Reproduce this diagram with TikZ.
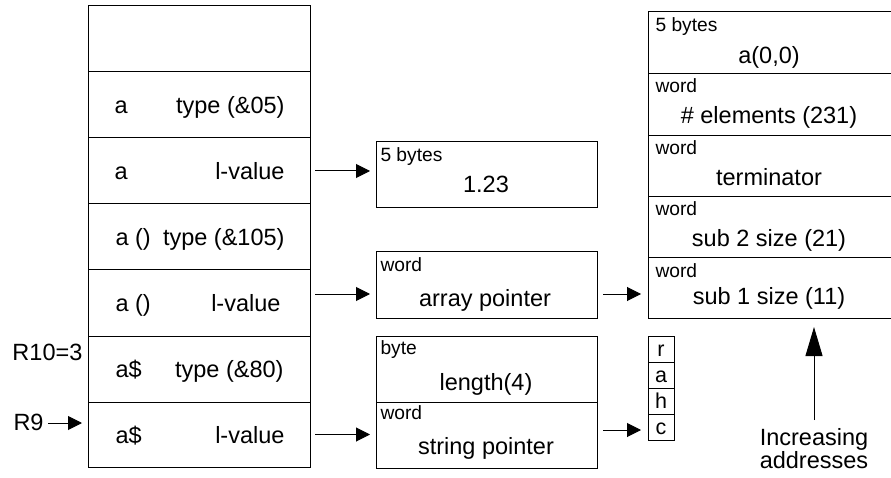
\documentclass[tikz,border=0pt]{standalone}
\usepackage{fontspec}
\setmainfont{Liberation Sans}
\usetikzlibrary{arrows.meta,calc}
\newcommand\bigfont{\fontsize{23.5}{26}\selectfont}
\newcommand\smallfont{\fontsize{19.2}{22}\selectfont}
\newcommand\charfont{\fontsize{21.5}{24}\selectfont}
\begin{document}
\begin{tikzpicture}[x=1pt,y=-1pt,line width=1pt,
  cell/.style={draw,inner sep=0pt,outer sep=0pt},
  lcell/.style={cell,minimum width=222pt,minimum height=66pt},
  mcell/.style={cell,minimum width=221pt,minimum height=66pt},
  rcell/.style={cell,minimum width=245pt},
  ccell/.style={cell,minimum width=26pt,minimum height=26pt},
  big/.style={inner sep=0pt,font=\bigfont},
  small/.style={inner sep=0pt,font=\smallfont,anchor=base west},
  chr/.style={inner sep=0pt,font=\charfont,anchor=base},
  arr/.style={-{Triangle[length=14pt,width=14pt]}},
  bigarr/.style={-{Triangle[length=29pt,width=17pt]}}]
\useasboundingbox (0,0) rectangle (891,478);
% left column
\node[lcell] (L1) at (199,39) {};
\node[lcell] (L2) at (199,105) {};
\node[lcell] (L3) at (199,171) {};
\node[lcell] (L4) at (199,237) {};
\node[lcell] (L5) at (199,303) {};
\node[lcell] (L6) at (199,369) {};
\node[lcell,minimum height=65pt] (L7) at (199,434.5) {};
\node[big,anchor=base west] (t2a) at (114,113.5) {a};
\node[big,anchor=base east] (t2b) at (285,113.5) {type (\&05)};
\node[big,anchor=base west] (t3a) at (114,179.5) {a};
\node[big,anchor=base east] (t3b) at (285,179.5) {l-value};
\node[big,anchor=base west] (t4a) at (115,245.5) {a ()};
\node[big,anchor=base east] (t4b) at (285,245.5) {type (\&105)};
\node[big,anchor=base west] (t5a) at (115,311.5) {a ()};
\node[big,anchor=base east] (t5b) at (281,311.5) {l-value};
\node[big,anchor=base west] (t6a) at (115,377.5) {a\$};
\node[big,anchor=base east] (t6b) at (284,377.5) {type (\&80)};
\node[big,anchor=base west] (t7a) at (115,443) {a\$};
\node[big,anchor=base east] (t7b) at (285,443) {l-value};
% register labels
\node[big,anchor=base west] (r10) at (12,360) {R10=3};
\node[big,anchor=base west] (r9) at (13,430) {R9};
\coordinate (r9s) at (48,423);
% middle boxes
\node[mcell] (B1) at (486.5,175) {};
\node[mcell] (B2) at (486.5,285) {};
\node[mcell] (B3) at (486.5,369) {};
\node[mcell] (B4) at (486.5,435) {};
\node[small] (b1s) at (380,162) {5 bytes};
\node[big,anchor=base] (b1t) at (486,193) {1.23};
\node[small] (b2s) at (380,271.5) {word};
\node[big,anchor=base] (b2t) at (485,306) {array pointer};
\node[small] (b3s) at (380,354) {byte};
\node[big,anchor=base] (b3t) at (486,390) {length(4)};
\node[small] (b4s) at (380,419) {word};
\node[big,anchor=base] (b4t) at (486,454) {string pointer};
% right column
\node[rcell,minimum height=62pt] (R1) at (770.5,43) {};
\node[rcell,minimum height=61.5pt] (R2) at (770.5,104.75) {};
\node[rcell,minimum height=61.5pt] (R3) at (770.5,166.25) {};
\node[rcell,minimum height=60.5pt] (R4) at (770.5,227.25) {};
\node[rcell,minimum height=60.5pt] (R5) at (770.5,287.75) {};
\node[small] (r1s) at (655,31.5) {5 bytes};
\node[big,anchor=base] (r1t) at (769,64) {a(0,0)};
\node[small] (r2s) at (655,93) {word};
\node[big,anchor=base] (r2t) at (769,124) {\# elements (231)};
\node[small] (r3s) at (655,155) {word};
\node[big,anchor=base] (r3t) at (769,186) {terminator};
\node[small] (r4s) at (655,215.5) {word};
\node[big,anchor=base] (r4t) at (769,247) {sub 2 size (21)};
\node[small] (r5s) at (655,277) {word};
\node[big,anchor=base] (r5t) at (769,304) {sub 1 size (11)};
% character boxes
\node[ccell] (C1) at (661,349) {};
\node[ccell] (C2) at (661,375) {};
\node[ccell] (C3) at (661,401) {};
\node[ccell] (C4) at (661,427) {};
\node[chr] (c1) at (661,356.7) {r};
\node[chr] (c2) at (661,382.7) {a};
\node[chr] (c3) at (661,408.7) {h};
\node[chr] (c4) at (661,434.7) {c};
% increasing addresses
\node[inner sep=0pt,align=center,font=\fontsize{23.5}{21}\selectfont,anchor=base] (inc) at (814,468) {Increasing\\addresses};
\coordinate (incs) at (814,420);
% connectors
\draw[arr,shorten <=5pt,shorten >=6pt] (L3.east) -- (L3.east -| B1.west);
\coordinate (a2) at ([yshift=9pt]L5.east);
\draw[arr,shorten <=5pt,shorten >=6pt] (a2) -- (a2 -| B2.west);
\coordinate (a3) at ([yshift=-9pt]B2.east);
\draw[arr,shorten <=6pt,shorten >=7pt] (a3) -- (a3 -| R5.west);
\draw[arr,shorten <=5pt,shorten >=6pt] (L7.east) -- (L7.east -| B4.west);
\coordinate (a5) at ([yshift=5pt]B4.east);
\draw[arr,shorten <=6pt,shorten >=7pt] (a5) -- (a5 -| C4.west);
\draw[arr,shorten >=6pt] (r9s) -- (r9s -| L7.west);
\draw[bigarr,shorten >=9pt] (incs) -- (incs |- R5.south);
\end{tikzpicture}
\end{document}
